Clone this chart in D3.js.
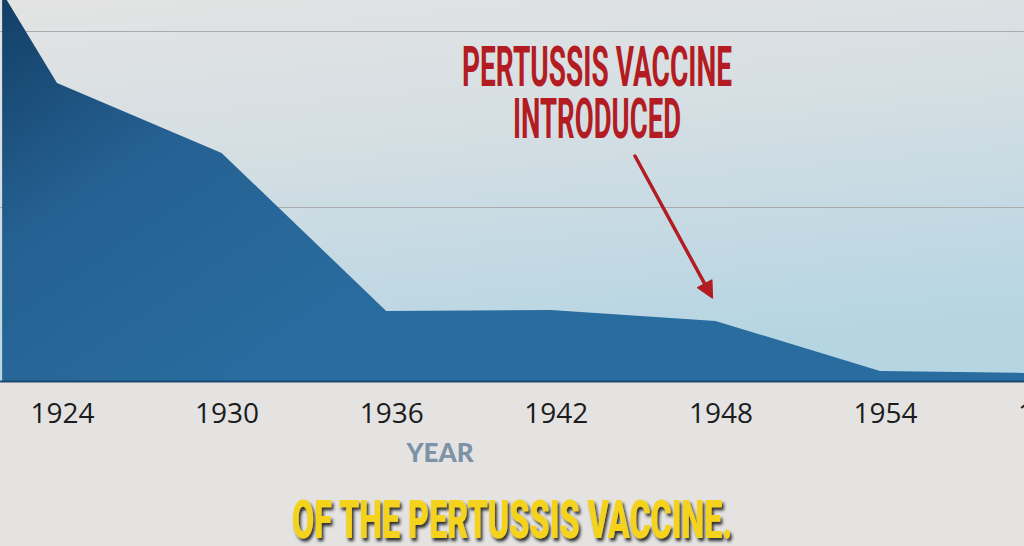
<!DOCTYPE html>
<html>
<head>
<meta charset="utf-8">
<script src="https://cdn.jsdelivr.net/npm/d3@7"></script>
<style>
  html, body { margin: 0; padding: 0; background: #e4e3e2; }
  svg { display: block; }
</style>
</head>
<body>
<svg id="chart" width="1024" height="546"></svg>
<script>
// ---- data ----
const years = [1922, 1924, 1930, 1936, 1942, 1948, 1954, 1960];
const rates = [222, 170.4, 130.5, 40.5, 41, 34.8, 6.3, 5];
const tickYears = [1924, 1930, 1936, 1942, 1948, 1954, 1960];
const gridValues = [100, 200];
const annotationLines = ["PERTUSSIS VACCINE", "INTRODUCED"];
const annotationYear = 1948;
const axisTitle = "YEAR";
const subtitle = "OF THE PERTUSSIS VACCINE.";

const W = 1024, H = 546;
const svg = d3.select("#chart");
const defs = svg.append("defs");

const x = d3.scaleLinear().domain([1924, 1954]).range([57, 880]);
const y = d3.scaleLinear().domain([0, 200]).range([382, 31]);

// background gradients
const bg = defs.append("linearGradient").attr("id", "bg")
  .attr("x1", 0).attr("y1", 0).attr("x2", 0.25).attr("y2", 1);
bg.append("stop").attr("offset", "0%").attr("stop-color", "#e3e3e3");
bg.append("stop").attr("offset", "40%").attr("stop-color", "#d6dfe3");
bg.append("stop").attr("offset", "100%").attr("stop-color", "#b6d5e3");

const af = defs.append("linearGradient").attr("id", "areaFill")
  .attr("gradientUnits", "userSpaceOnUse")
  .attr("x1", 0).attr("y1", 0).attr("x2", 260).attr("y2", 382);
af.append("stop").attr("offset", "0%").attr("stop-color", "#133f66");
af.append("stop").attr("offset", "45%").attr("stop-color", "#256192");
af.append("stop").attr("offset", "100%").attr("stop-color", "#296c9f");

const shadow = defs.append("filter").attr("id", "shadow")
  .attr("x", "-10%").attr("y", "-30%").attr("width", "120%").attr("height", "160%");
shadow.append("feDropShadow").attr("dx", 2).attr("dy", 3).attr("stdDeviation", 1.8)
  .attr("flood-color", "#1e1e1e").attr("flood-opacity", 0.9);

svg.append("rect").attr("x", 0).attr("y", 0).attr("width", W).attr("height", H)
  .attr("fill", "#e4e3e2");
svg.append("rect").attr("x", 0).attr("y", 0).attr("width", W).attr("height", y(0))
  .attr("fill", "url(#bg)");

// gridlines
svg.append("g").selectAll("line").data(gridValues).join("line")
  .attr("x1", 0).attr("x2", W)
  .attr("y1", d => Math.round(y(d)) + 0.5).attr("y2", d => Math.round(y(d)) + 0.5)
  .attr("stroke", "#a9abac").attr("stroke-width", 1.2);

// area
const data = years.map((yr, i) => ({ year: yr, value: rates[i] }));
const area = d3.area().x(d => x(d.year)).y0(y(0)).y1(d => y(d.value));
svg.append("path").datum(data).attr("d", area).attr("fill", "url(#areaFill)");

// baseline
svg.append("line").attr("x1", 0).attr("x2", W)
  .attr("y1", y(0) - 0.5).attr("y2", y(0) - 0.5)
  .attr("stroke", "#1c4a6e").attr("stroke-width", 2);

// x axis
const xAxis = d3.axisBottom(x).tickValues(tickYears).tickSize(0).tickFormat(d3.format("d"));
const gx = svg.append("g").attr("transform", `translate(0,${y(0)})`).call(xAxis);
gx.select(".domain").remove();
gx.selectAll("text")
  .attr("x", 5).attr("y", 41).attr("dy", 0)
  .attr("font-family", "'Open Sans', 'Noto Sans', sans-serif")
  .attr("font-size", 28).attr("fill", "#1c1c1c");

// axis title
svg.append("text").attr("x", 440).attr("y", 462).attr("text-anchor", "middle")
  .attr("font-family", "Lato, sans-serif").attr("font-weight", 900)
  .attr("font-size", 26).attr("fill", "#7d91a7").text(axisTitle);

// annotation
const ann = svg.append("g").attr("font-family", "Roboto, sans-serif").attr("font-weight", 700)
  .attr("fill", "#b31c22").attr("font-size", 55);
ann.append("text").attr("x", 462).attr("y", 86)
  .attr("textLength", 270).attr("lengthAdjust", "spacingAndGlyphs").text(annotationLines[0]);
ann.append("text").attr("x", 513).attr("y", 138)
  .attr("textLength", 168).attr("lengthAdjust", "spacingAndGlyphs").text(annotationLines[1]);

// arrow
const tipX = x(annotationYear) - 3, tipY = y(rates[years.indexOf(annotationYear)]) - 23;
const startX = 635, startY = 156;
const ang = Math.atan2(tipY - startY, tipX - startX);
const headLen = 16, headW = 8;
const baseX = tipX - headLen * Math.cos(ang), baseY = tipY - headLen * Math.sin(ang);
svg.append("line").attr("x1", startX).attr("y1", startY).attr("x2", baseX).attr("y2", baseY)
  .attr("stroke", "#b31c22").attr("stroke-width", 3.5).attr("stroke-linecap", "round");
svg.append("path")
  .attr("d", `M${tipX},${tipY} L${baseX + headW * Math.sin(ang)},${baseY - headW * Math.cos(ang)} L${baseX - headW * Math.sin(ang)},${baseY + headW * Math.cos(ang)} Z`)
  .attr("fill", "#b31c22").attr("stroke", "#b31c22").attr("stroke-width", 1.5).attr("stroke-linejoin", "round");

// subtitle
svg.append("text").attr("x", 292).attr("y", 538)
  .attr("font-family", "Roboto, sans-serif").attr("font-weight", 900).attr("font-size", 54)
  .attr("textLength", 440).attr("lengthAdjust", "spacingAndGlyphs")
  .attr("fill", "#f5d31b").attr("filter", "url(#shadow)").text(subtitle);
</script>
</body>
</html>
